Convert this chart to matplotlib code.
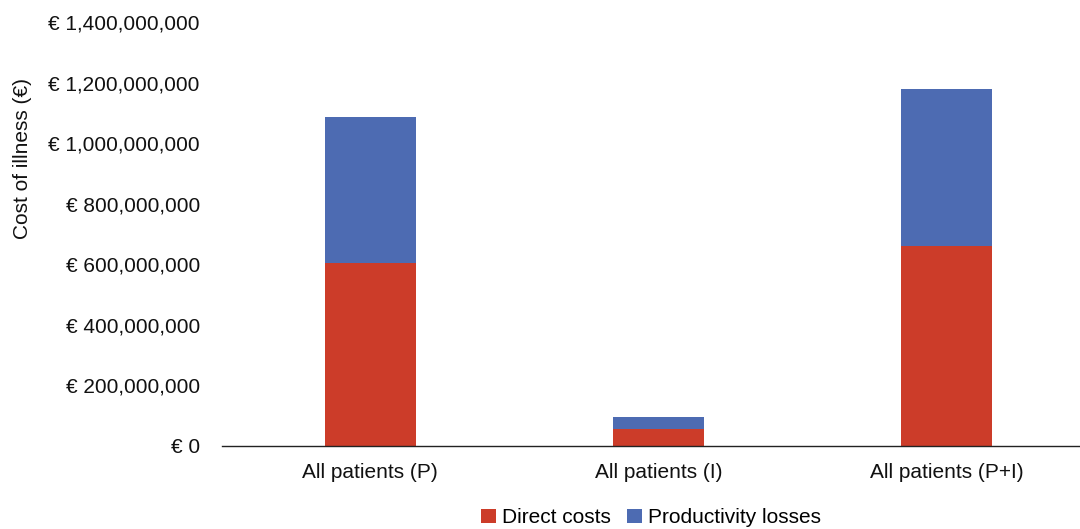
import numpy as np
import matplotlib
matplotlib.use('Agg')
import matplotlib.pyplot as plt
from matplotlib.ticker import FuncFormatter

plt.rcParams['font.family'] = ['Liberation Sans', 'DejaVu Sans']

# data
groups = ['All patients (P)', 'All patients (I)', 'All patients (P+I)']
direct_costs = [604e6, 56e6, 661e6]
productivity_losses = [482e6, 40e6, 518e6]

red = '#cc3c29'
blue = '#4d6bb2'

fig = plt.figure(figsize=(10.8, 5.29), dpi=100)
ax = fig.add_axes([0.2056, 0.157, 0.7944, 0.801])

x = np.arange(len(groups))
w = 0.315
ax.bar(x, direct_costs, w, color=red, label='Direct costs')
ax.bar(x, productivity_losses, w, bottom=direct_costs, color=blue,
       label='Productivity losses')

ax.set_xlim(-0.514, 2.462)
ax.set_ylim(0, 1.4e9)
ax.set_yticks(np.arange(0, 1.4e9 + 1, 2e8))
ax.yaxis.set_major_formatter(FuncFormatter(lambda v, p: '€ {:,.0f}'.format(v)))
ax.set_xticks(x)
ax.set_xticklabels(groups)
ax.tick_params(axis='both', length=0, labelsize=15, colors='#111111')
ax.tick_params(axis='x', pad=12)
ax.tick_params(axis='y', pad=16)

for s in ['top', 'right', 'left']:
    ax.spines[s].set_visible(False)
ax.spines['bottom'].set_color('#222222')
ax.spines['bottom'].set_linewidth(1.0)

fig.text(0.021, 0.70, 'Cost of illness (€)', rotation=90, ha='center',
         va='center', fontsize=15, color='#111111')

ax.legend(loc='center', bbox_to_anchor=(0.5, -0.17), ncol=2, frameon=False,
          fontsize=15, handlelength=0.7, handleheight=0.7,
          handletextpad=0.3, columnspacing=0.8)

plt.savefig('out.png', dpi=100)
